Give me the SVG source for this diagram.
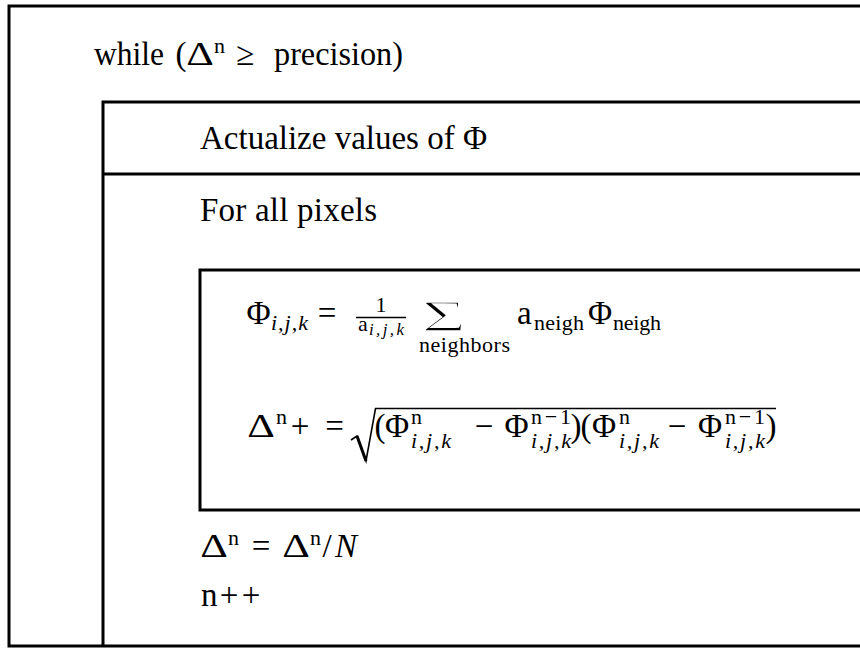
<svg xmlns="http://www.w3.org/2000/svg" width="860" height="648" viewBox="0 0 860 648">
<style>
.ln{stroke:#000;stroke-width:3;fill:none}
text{font-family:"Liberation Serif","Times New Roman",serif;font-size:33px;fill:#000}
.m{text-anchor:middle}
.it{font-style:italic}
.s{font-size:22px}
.ss{font-size:17px}
.big{font-size:44px;stroke:#fff;stroke-width:1.6px}
</style>
<rect width="860" height="648" fill="#fff"/>
<g id="while-loop">
<path class="ln" d="M860 6 H9 V646 H860"/>
<text x="94" y="65" textLength="70" lengthAdjust="spacingAndGlyphs">while</text>
<text x="181" y="65" class="m">(</text>
<text transform="translate(200 65) scale(1.3 1)" class="m">Δ</text>
<text x="214" y="53" class="s">n</text>
<text x="245" y="65" class="m">≥</text>
<text x="274" y="65" textLength="129" lengthAdjust="spacingAndGlyphs">precision)</text>
</g>
<g id="loop-body">
<path class="ln" d="M860 102 H103 V646"/>
<path class="ln" d="M103 174 H860"/>
<text x="200" y="149" textLength="287">Actualize values of Φ</text>
<text x="200" y="221" textLength="177">For all pixels</text>
</g>
<g id="pixel-loop">
<path class="ln" d="M860 270 H200 V510 H860"/>
<text x="258.5" y="324" class="m">Φ</text>
<text x="271" y="330" class="s it" textLength="37">i,j,k</text>
<text x="327" y="324" class="m">=</text>
<text x="381" y="312" class="s m">1</text>
<line x1="356" y1="317.5" x2="406" y2="317.5" stroke="#000" stroke-width="1.4"/>
<text x="358" y="331" class="s">a</text>
<text x="369" y="335" class="ss it" textLength="35">i,j,k</text>
<text transform="translate(444 331) scale(1.75 1)" class="m big">Σ</text>
<text x="419" y="352" class="s" textLength="91">neighbors</text>
<text x="517" y="324">a</text>
<text x="534" y="330" class="s" textLength="50">neigh</text>
<text x="600" y="324" class="m">Φ</text>
<text x="613" y="330" class="s" textLength="48">neigh</text>
<text transform="translate(261 437) scale(1.3 1)" class="m">Δ</text>
<text x="276" y="424" class="s">n</text>
<text x="300" y="437" class="m">+</text>
<text x="334.5" y="437" class="m">=</text>
<path d="M351 440 L357 436 L366 461 L375.5 408.5 H776" stroke="#000" stroke-width="1.6" fill="none"/>
<line x1="357" y1="436" x2="366" y2="461" stroke="#000" stroke-width="3"/>
<text x="380" y="437" class="m">(</text>
<text x="397" y="437" class="m">Φ</text>
<text x="411" y="424" class="s">n</text>
<text x="411" y="448" class="s it" textLength="40">i,j,k</text>
<text x="484" y="437" class="m">−</text>
<text x="516.5" y="437" class="m">Φ</text>
<text x="531" y="424" class="s" textLength="40">n−1</text>
<text x="531" y="448" class="s it" textLength="40">i,j,k</text>
<text x="576" y="437" class="m">)</text>
<text x="586" y="437" class="m">(</text>
<text x="604" y="437" class="m">Φ</text>
<text x="619" y="424" class="s">n</text>
<text x="619" y="448" class="s it" textLength="40">i,j,k</text>
<text x="677" y="437" class="m">−</text>
<text x="710" y="437" class="m">Φ</text>
<text x="725" y="424" class="s" textLength="40">n−1</text>
<text x="725" y="448" class="s it" textLength="40">i,j,k</text>
<text x="771" y="437" class="m">)</text>
</g>
<g id="after-loop">
<text transform="translate(214 557) scale(1.3 1)" class="m">Δ</text>
<text x="228" y="545" class="s">n</text>
<text x="261" y="557" class="m">=</text>
<text transform="translate(296 557) scale(1.3 1)" class="m">Δ</text>
<text x="310" y="545" class="s">n</text>
<text x="327" y="557" class="m">/</text>
<text x="335" y="557" class="it">N</text>
<text x="201" y="606">n</text>
<text x="229" y="606" class="m">+</text>
<text x="251" y="606" class="m">+</text>
</g>
<g id="connectors"></g>
</svg>
